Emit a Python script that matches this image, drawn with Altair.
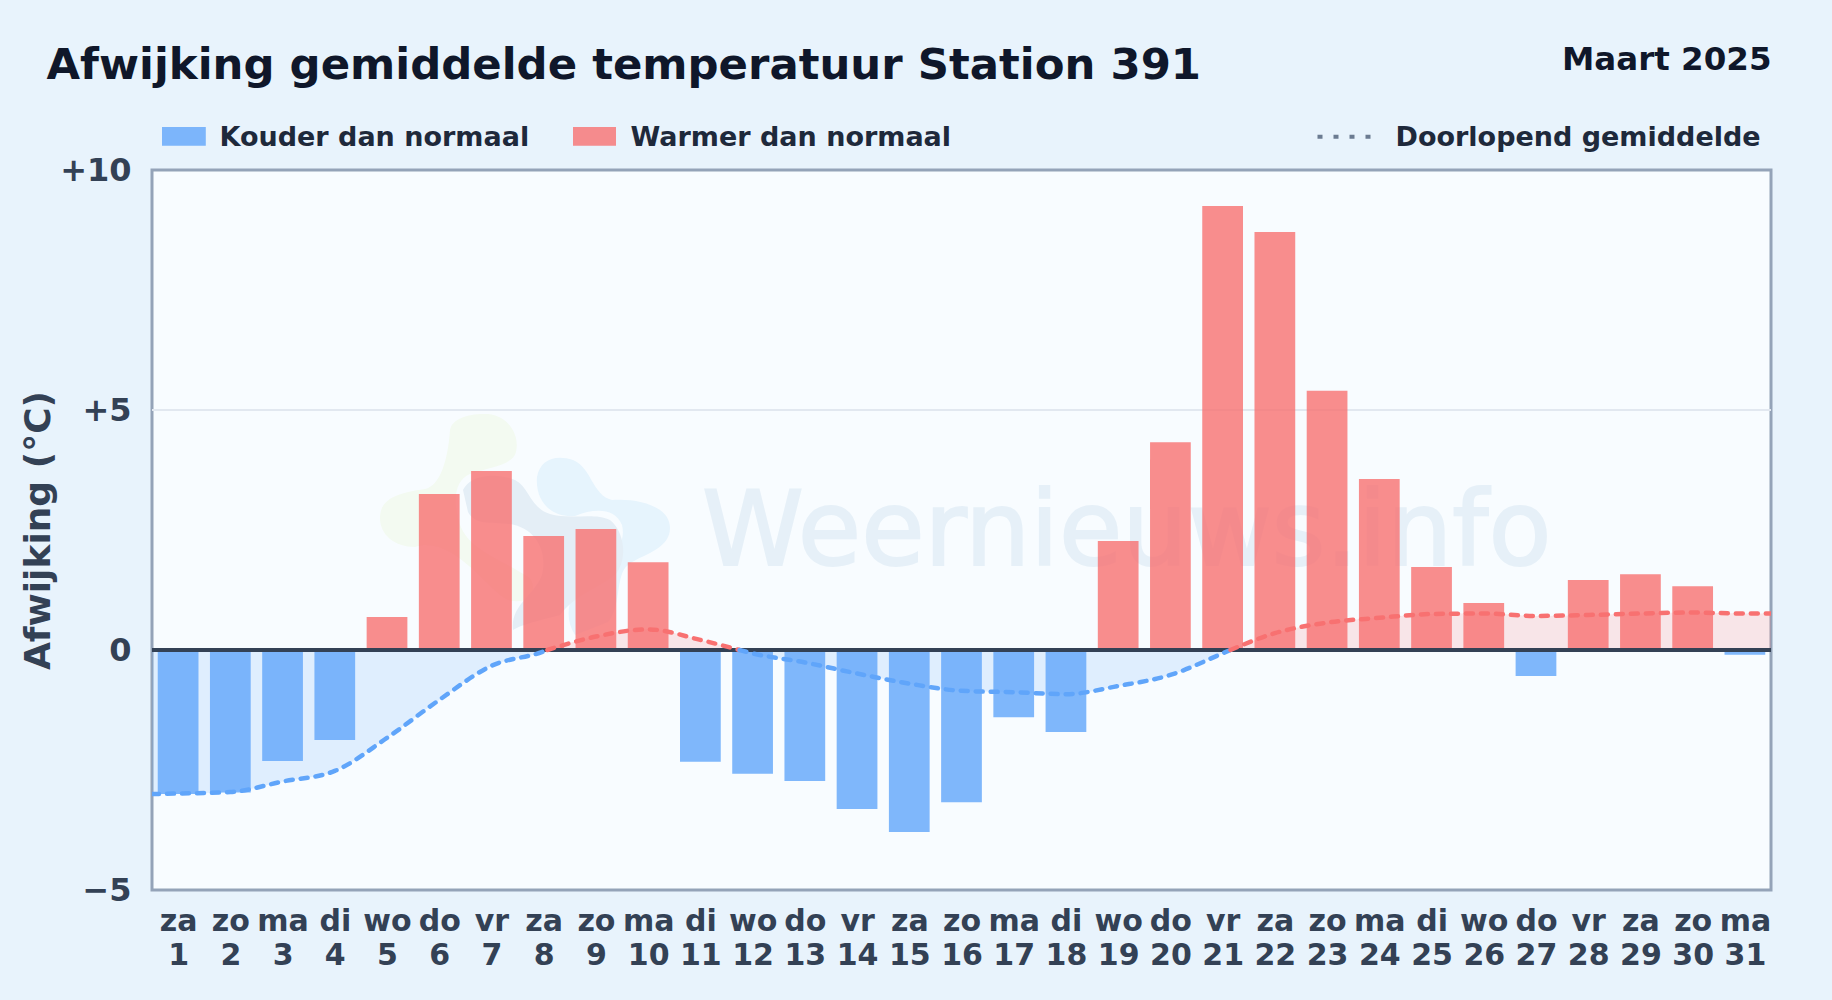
import altair as alt
import pandas as pd

FONT = "DejaVu Sans"
PAGE = "#e8f3fc"
PLOT = "#f8fcff"
INK = "#0f172a"
LEGEND_INK = "#1e293b"
AXIS_INK = "#334155"
BLUE = "#60a5fa"
RED = "#f87171"

weekdays = ["za","zo","ma","di","wo","do","vr","za","zo","ma","di","wo","do","vr","za","zo",
            "ma","di","wo","do","vr","za","zo","ma","di","wo","do","vr","za","zo","ma"]
days = list(range(1, 32))
anomaly = [-3.0, -2.97, -2.31, -1.875, 0.69, 3.25, 3.73, 2.375, 2.52, 1.83, -2.33, -2.58, -2.73,
           -3.31, -3.79, -3.17, -1.40, -1.71, 2.27, 4.33, 9.25, 8.71, 5.40, 3.56, 1.73, 0.98,
           -0.54, 1.46, 1.58, 1.33, -0.10]

cold_label = "Kouder dan normaal"
warm_label = "Warmer dan normaal"
mean_label = "Doorlopend gemiddelde"

seg1_x = [0.5, 1, 2, 3, 4, 5, 6, 7, 8, 8.07]
seg1_y = [-3.0, -2.99, -2.96, -2.74, -2.52, -1.83, -1.04, -0.33, -0.03, 0]
seg2_x = [8.07, 9, 10, 11, 11.75]
seg2_y = [0, 0.28, 0.43, 0.21, 0]
seg3_x = [11.75, 12, 13, 14, 15, 16, 17, 18, 19, 20, 21, 21.15]
seg3_y = [0, -0.07, -0.26, -0.49, -0.70, -0.85, -0.88, -0.92, -0.75, -0.52, -0.07, 0]
seg4_x = [21.15, 22, 23, 24, 25, 26, 27, 28, 29, 30, 31, 31.5]
seg4_y = [0, 0.35, 0.57, 0.67, 0.75, 0.76, 0.71, 0.73, 0.76, 0.78, 0.76, 0.76]

bars = pd.DataFrame({
    "x0": [d - 0.39 for d in days],
    "x1": [d + 0.39 for d in days],
    "value": anomaly,
    "kind": [cold_label if v < 0 else warm_label for v in anomaly],
})
rows = []
for i, (xs, ys, kind) in enumerate([(seg1_x, seg1_y, cold_label), (seg2_x, seg2_y, warm_label),
                                    (seg3_x, seg3_y, cold_label), (seg4_x, seg4_y, warm_label)]):
    rows += [{"day": x, "mean": y, "seg": i, "kind": kind} for x, y in zip(xs, ys)]
mean = pd.DataFrame(rows)

color = alt.Color("kind:N", scale=alt.Scale(domain=[cold_label, warm_label], range=[BLUE, RED]), legend=None)
x_scale = alt.Scale(domain=[0.5, 31.5], nice=False, zero=False)
y_scale = alt.Scale(domain=[-5, 10], nice=False)

names = ",".join(weekdays)
x_axis = alt.Axis(values=days, title=None, grid=False, domain=False, ticks=False,
                  labelExpr=f"[split('{names}', ',')[datum.value - 1], format(datum.value, 'd')]",
                  labelFont=FONT, labelFontSize=30, labelFontWeight="bold", labelColor=AXIS_INK,
                  labelLineHeight=34, labelPadding=16, labelOverlap=False, labelFlush=False, labelBound=False,
                  labelBaseline="top")
y_axis = alt.Axis(values=[-5, 0, 5, 10], title="Afwijking (°C)", domain=False, ticks=False,
                  grid=False,
                  labelExpr="datum.value > 0 ? '+' + datum.value : datum.value < 0 ? '−' + abs(datum.value) : '0'",
                  labelFont=FONT, labelFontSize=32, labelFontWeight="bold", labelColor=AXIS_INK, labelPadding=21,
                  labelFlush=False, labelBound=False,
                  titleFont=FONT, titleFontSize=36, titleFontWeight="bold", titleColor=AXIS_INK,
                  titleX=-103, titleY=360, titleBaseline="alphabetic", titleAlign="center", titleAngle=270)

base_bar = alt.Chart(bars).mark_rect(opacity=0.8).encode(
    x=alt.X("x0:Q", scale=x_scale, axis=x_axis),
    x2="x1:Q",
    y=alt.Y("value:Q", scale=y_scale, axis=y_axis),
    y2=alt.datum(0),
    color=color,
)
area = alt.Chart(mean).mark_area(interpolate="monotone", opacity=0.16, clip=True).encode(
    x=alt.X("day:Q", scale=x_scale), y=alt.Y("mean:Q", scale=y_scale), y2=alt.datum(0),
    detail="seg:N", color=color,
)
line = alt.Chart(mean).mark_line(interpolate="monotone", strokeWidth=4.5, strokeDash=[7, 8], strokeCap="round", clip=True).encode(
    x=alt.X("day:Q", scale=x_scale), y=alt.Y("mean:Q", scale=y_scale),
    detail="seg:N", color=color,
)
zero = alt.Chart().mark_rule(color=AXIS_INK, strokeWidth=4).encode(y=alt.datum(0, scale=y_scale))
grid5 = alt.Chart().mark_rule(color="#e2e8f0", strokeWidth=2).encode(y=alt.datum(5, scale=y_scale))


def blob(path, fill):
    return alt.Chart().mark_point(shape=path, size=4, filled=True, fill=fill, opacity=1, stroke=None).encode(
        x=alt.value(218), y=alt.value(230))


GREEN_PATH = ("M 80,30 C 82,18 100,13 118,14 C 138,16 150,34 146,52 C 143,66 115,68 100,74 "
              "C 85,80 82,100 90,125 C 100,150 125,156 160,178 C 170,195 155,205 138,200 "
              "C 118,192 85,135 45,147 C 25,147 10,135 10,118 C 10,100 25,93 55,89 "
              "C 70,86 78,60 80,30 Z")
GREY_PATH = ("M 93,90 C 100,75 125,72 145,80 C 160,88 160,108 180,114 C 200,120 225,112 240,120 "
             "C 255,132 258,160 245,175 C 225,190 205,195 190,215 C 170,220 150,225 143,230 "
             "C 140,205 165,195 172,175 C 178,150 165,128 140,124 C 120,122 105,125 98,112 Z")
LIGHT_PATH = ("M 167,77 C 170,60 185,54 203,60 C 222,68 222,95 242,100 C 265,98 300,105 300,128 "
              "C 300,150 270,155 258,165 C 245,175 252,205 238,222 L 205,235 "
              "C 192,215 200,190 218,178 C 232,165 258,150 252,125 C 245,108 225,108 205,116 "
              "C 180,118 165,100 167,77 Z")

watermark = alt.Chart().mark_text(font=FONT, fontSize=103, align="left", baseline="alphabetic", color="#e6f0f8",
                                  stroke="#e6f0f8", strokeWidth=2).encode(
    x=alt.value(550), y=alt.value(395), text=alt.value("Weernieuws.info"))


def label(txt, x, y, size, col, align="left"):
    return alt.Chart().mark_text(font=FONT, fontSize=size, fontWeight="bold", align=align, baseline="alphabetic", color=col).encode(
        x=alt.value(x), y=alt.value(y), text=alt.value(txt))


def swatch(x0, x1, col):
    return alt.Chart().mark_rect(color=col, opacity=0.8).encode(
        x=alt.value(x0), x2=alt.value(x1), y=alt.value(-43), y2=alt.value(-24.3))


legend_dots = alt.Chart().mark_rule(color="#64748b", strokeWidth=4, strokeDash=[5, 11], opacity=0.95).encode(
    x=alt.value(1165.5), x2=alt.value(1220.5), y=alt.value(-33.3))

chart = alt.layer(
    grid5,
    blob(GREEN_PATH, "#f3faf1"), blob(LIGHT_PATH, "#e6f4fd"), blob(GREY_PATH, "#e4eef6"),
    watermark,
    area, base_bar, zero, line,
    label("Afwijking gemiddelde temperatuur Station 391", -105.5, -91.3, 43.4, INK),
    label("Maart 2025", 1619.5, -100, 32.5, INK, "right"),
    swatch(10, 53.8, BLUE), label(cold_label, 67.5, -24.5, 27, LEGEND_INK),
    swatch(421, 464, RED), label(warm_label, 478.5, -24.5, 27, LEGEND_INK),
    legend_dots, label(mean_label, 1243.5, -24.5, 27, LEGEND_INK),
).properties(
    width=1619, height=720,
    background=PAGE,
    autosize=alt.AutoSizeParams(type="none"),
    padding={"left": 144, "top": 162, "right": 45, "bottom": 100},
).configure_view(fill=PLOT, stroke="#94a3b8", strokeWidth=3)

chart.save("out.html", embed_options={"renderer": "svg", "actions": False,
                                      "defaultStyle": f"html,body{{background:{PAGE};overflow:hidden}}"})
